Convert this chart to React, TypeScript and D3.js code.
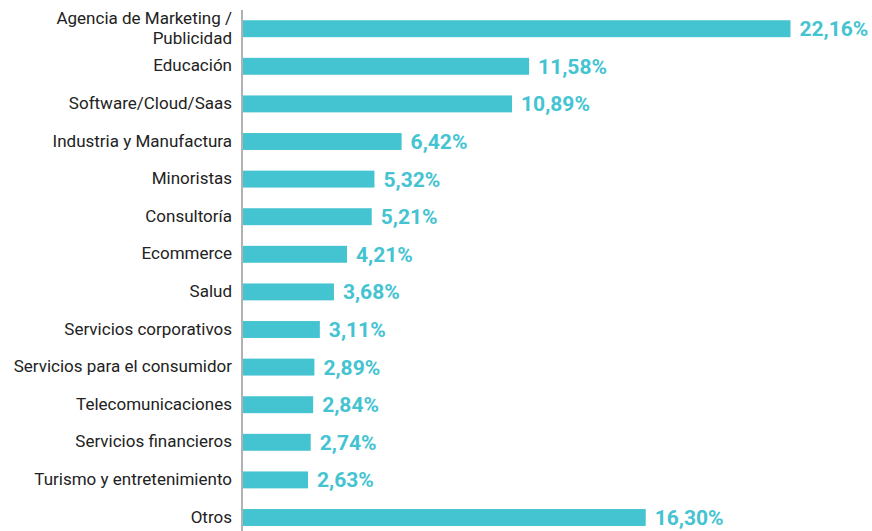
import React from "react";
import * as d3 from "d3";

const categories: string[][] = [
  ["Agencia de Marketing /", "Publicidad"],
  ["Educación"],
  ["Software/Cloud/Saas"],
  ["Industria y Manufactura"],
  ["Minoristas"],
  ["Consultoría"],
  ["Ecommerce"],
  ["Salud"],
  ["Servicios corporativos"],
  ["Servicios para el consumidor"],
  ["Telecomunicaciones"],
  ["Servicios financieros"],
  ["Turismo y entretenimiento"],
  ["Otros"],
];
const values: number[] = [22.16, 11.58, 10.89, 6.42, 5.32, 5.21, 4.21, 3.68, 3.11, 2.89, 2.84, 2.74, 2.63, 16.3];

const W = 872;
const H = 531;
const BAR = "#44c3d1";
const FONT = "Roboto, 'Noto Sans', sans-serif";

export default function App() {
  const x = d3.scaleLinear().domain([0, 22.16]).range([243, 790.5]);
  const y = d3
    .scaleBand<number>()
    .domain(d3.range(values.length))
    .range([9.9, 9.9 + 37.6 * values.length])
    .paddingInner(0.55)
    .paddingOuter(0.275);
  const fmt = (v: number) => v.toFixed(2).replace(".", ",") + "%";
  return (
    <svg
      width={W}
      height={H}
      style={{ position: "absolute", left: 0, top: 0, background: "#fff" }}
    >
      {values.map((v, i) => {
        const y0 = y(i)!;
        const cy = y0 + y.bandwidth() / 2;
        const lines = categories[i];
        return (
          <g key={i}>
            <rect x={x(0)} y={y0} width={x(v) - x(0)} height={y.bandwidth()} fill={BAR} />
            <text
              x={x(v) + 9}
              y={cy}
              dy="0.36em"
              fill={BAR}
              fontFamily={FONT}
              fontWeight={700}
              fontSize={21}
            >
              {fmt(v)}
            </text>
            <text
              x={232}
              y={cy}
              textAnchor="end"
              fill="#222"
              fontFamily={FONT}
              fontSize={17}
            >
              {lines.map((l, j) => (
                <tspan key={j} x={232} y={cy + (j - (lines.length - 1) / 2) * 19.5 - 1} dy="0.36em">
                  {l}
                </tspan>
              ))}
            </text>
          </g>
        );
      })}
      <line x1={242} x2={242} y1={10} y2={H} stroke="#999" strokeWidth={1.5} />
    </svg>
  );
}
